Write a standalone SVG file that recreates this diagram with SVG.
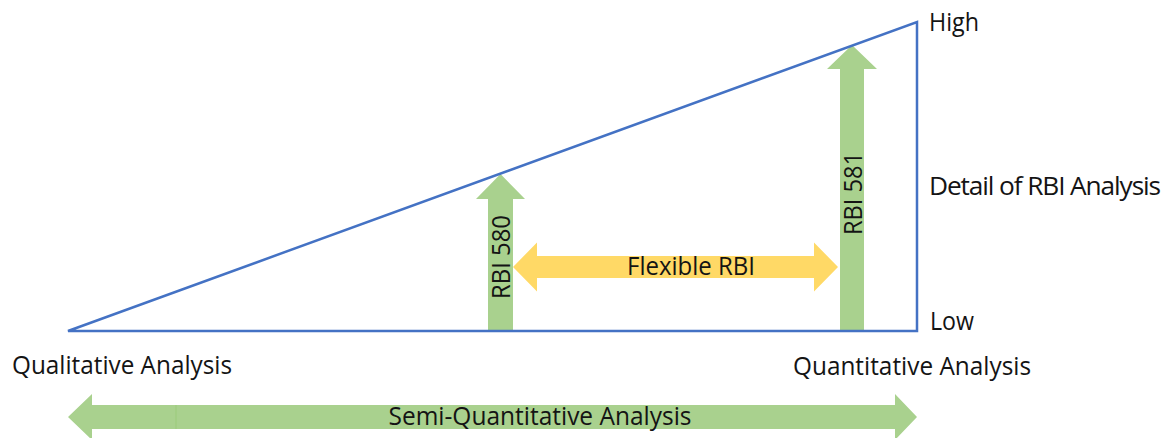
<svg xmlns="http://www.w3.org/2000/svg" width="1176" height="438" viewBox="0 0 1176 438">
  <style>
    .lbl { font-family: "Open Sans", "Liberation Sans", sans-serif; font-size: 26px; fill: #141414; }
    .green { fill: #A9D18E; }
    .yellow { fill: #FFD966; }
    .axis { fill: none; stroke: #4472C4; stroke-width: 2.5; stroke-linejoin: miter; }
  </style>
  <rect width="1176" height="438" fill="#ffffff"/>

  <g id="semi-quantitative">
    <path class="green" d="M68,417 L92,394 V405 H895 V394 L917,417 L895,440 V429 H92 V440 Z"/>
    <line x1="176" y1="405" x2="176" y2="429" stroke="#9BCB7B" stroke-width="1"/>
    <text class="lbl" x="540" y="425" text-anchor="middle" textLength="303" lengthAdjust="spacingAndGlyphs">Semi-Quantitative Analysis</text>
  </g>

  <g id="rbi580">
    <path class="green" d="M488,331 V199 H476 L500.5,174 L525,199 H513 V331 Z"/>
    <text class="lbl" transform="translate(510,257) rotate(-90)" x="0" y="0" text-anchor="middle" textLength="84" lengthAdjust="spacingAndGlyphs">RBI 580</text>
  </g>

  <g id="rbi581">
    <path class="green" d="M840,331 V69 H827 L852,45 L877,69 H864 V331 Z"/>
    <text class="lbl" transform="translate(861.5,193.5) rotate(-90)" x="0" y="0" text-anchor="middle" textLength="83" lengthAdjust="spacingAndGlyphs">RBI 581</text>
  </g>

  <g id="flexible-rbi">
    <path class="yellow" d="M513,267 L537,242.5 V256 H814 V242.5 L838,267 L814,291.5 V278 H537 V291.5 Z"/>
    <text class="lbl" x="691" y="275" text-anchor="middle" textLength="128" lengthAdjust="spacingAndGlyphs">Flexible RBI</text>
  </g>

  <g id="connectors">
    <polygon class="axis" points="68,331 917,331 917,22"/>
  </g>

  <g id="labels">
    <text class="lbl" x="929" y="31" textLength="50" lengthAdjust="spacingAndGlyphs">High</text>
    <text class="lbl" x="929" y="195" font-size="25" letter-spacing="-1.1" textLength="231" lengthAdjust="spacingAndGlyphs">Detail of RBI Analysis</text>
    <text class="lbl" x="930" y="330" textLength="44" lengthAdjust="spacingAndGlyphs">Low</text>
    <text class="lbl" x="12" y="374" textLength="220" lengthAdjust="spacingAndGlyphs">Qualitative Analysis</text>
    <text class="lbl" x="793" y="375" textLength="238" lengthAdjust="spacingAndGlyphs">Quantitative Analysis</text>
  </g>
</svg>
